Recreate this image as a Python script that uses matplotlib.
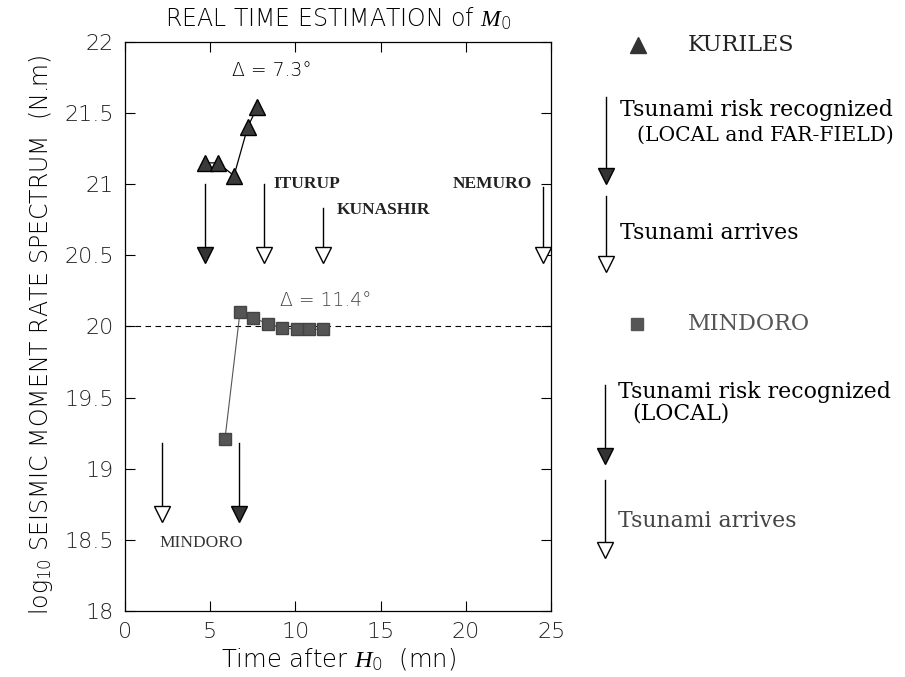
import matplotlib
matplotlib.use('Agg')
import matplotlib.pyplot as plt

plt.rcParams['mathtext.fontset'] = 'custom'
plt.rcParams['mathtext.rm'] = 'DejaVu Sans:light'
plt.rcParams['mathtext.it'] = 'Liberation Serif:italic'

# Kuriles estimates (triangles)
kur_t = [4.7, 5.45, 6.4, 7.2, 7.75]
kur_m = [21.15, 21.15, 21.06, 21.40, 21.54]

# Mindoro estimates (squares)
min_t = [5.87, 6.75, 7.5, 8.4, 9.2, 10.1, 10.8, 11.6]
min_m = [19.21, 20.10, 20.06, 20.02, 19.99, 19.98, 19.98, 19.98]

# event arrows: time, top, head, filled
kur_arrows_t = [4.7, 8.15, 11.6, 24.5]
kur_arrows_top = [21.0, 21.0, 20.83, 20.98]
kur_arrows_head = [20.5, 20.5, 20.5, 20.5]
kur_arrows_filled = [True, False, False, False]

min_arrows_t = [2.2, 6.7]
min_arrows_top = [19.18, 19.18]
min_arrows_head = [18.68, 18.68]
min_arrows_filled = [False, True]

places = ['ITURUP', 'KUNASHIR', 'NEMURO']
places_t = [8.7, 12.4, 19.2]
places_m = [21.0, 20.82, 21.0]

serif = 'Liberation Serif'
wide_serif = 'DejaVu Serif'
sans = 'DejaVu Sans'
thin = 'light'


def arrow(ax, x, top, head, filled, **kw):
    ax.plot([x, x], [top, head + 0.03], color='black', lw=1.0,
            clip_on=False, **kw)
    ax.plot([x], [head], marker='v', markersize=11,
            markerfacecolor='#333333' if filled else 'white',
            markeredgecolor='black', markeredgewidth=1.0,
            clip_on=False, **kw)


fig = plt.figure(figsize=(9.05, 6.77), dpi=100)
ax = fig.add_axes([0.138, 0.0975, 0.471, 0.8405])

ax.set_xlim(0, 25)
ax.set_ylim(18, 22)
ax.set_xticks([0, 5, 10, 15, 20, 25])
ax.set_yticks([18, 18.5, 19, 19.5, 20, 20.5, 21, 21.5, 22])
ax.set_yticklabels(['18', '18.5', '19', '19.5', '20', '20.5', '21', '21.5', '22'])
ax.tick_params(direction='in', length=7, width=0.8, top=True, right=True,
               labelsize=16, pad=8)
for lab in ax.get_xticklabels() + ax.get_yticklabels():
    lab.set_fontfamily(sans)
    lab.set_fontweight(thin)
    lab.set_color('#222222')
for s in ax.spines.values():
    s.set_linewidth(0.9)

ax.axhline(20, color='black', lw=0.8, ls=(0, (5, 4)))

ax.plot(kur_t, kur_m, color='black', lw=0.9, marker='^', markersize=11,
        markerfacecolor='#3a3a3a', markeredgecolor='black')
ax.plot(min_t, min_m, color='#555555', lw=0.8, marker='s', markersize=8,
        markerfacecolor='#555555', markeredgecolor='#444444')

for x, t, h, f in zip(kur_arrows_t, kur_arrows_top, kur_arrows_head, kur_arrows_filled):
    arrow(ax, x, t, h, f)
for x, t, h, f in zip(min_arrows_t, min_arrows_top, min_arrows_head, min_arrows_filled):
    arrow(ax, x, t, h, f)

for name, x, y in zip(places, places_t, places_m):
    ax.text(x, y, name, family=serif, fontsize=12.5, fontweight='bold',
            color='#222222', ha='left', va='center')
ax.text(2.05, 18.48, 'MINDORO', family=serif, fontsize=12.5, color='#333333',
        ha='left', va='center')

ax.text(8.6, 21.8, 'Δ = 7.3°', family=sans, fontweight=thin, fontsize=13.5,
        ha='center', va='center')
ax.text(11.8, 20.18, 'Δ = 11.4°', family=sans, fontweight=thin, fontsize=13.5,
        ha='center', va='center', color='#444444')

ax.set_title(r'REAL TIME ESTIMATION of $M_{\mathit{0}}$', family=sans, fontweight=thin,
             fontsize=17, pad=11)
ax.set_xlabel(r'Time after $H_{\mathit{0}}$  (mn)', family=sans, fontweight=thin,
              fontsize=17.5)
ax.xaxis.set_label_coords(0.5, -0.062)
ax.set_ylabel(r'log$_{10}$ SEISMIC MOMENT RATE SPECTRUM  (N.m)', family=sans,
              fontweight=thin, fontsize=17)
ax.yaxis.set_label_coords(-0.165, 0.485)

# key on the right, in data units beyond the axes
ax.plot([30.1], [21.98], marker='^', markersize=11, color='#333333', clip_on=False)
ax.text(33.0, 21.98, 'KURILES', family=wide_serif, fontsize=16, va='center',
        color='#222222')
ax.text(29.05, 21.52, 'Tsunami risk recognized', family=wide_serif, fontsize=15.8,
        va='center')
ax.text(30.05, 21.345, '(LOCAL and FAR-FIELD)', family=wide_serif, fontsize=14.6,
        va='center')
arrow(ax, 28.2, 21.61, 21.06, True)
arrow(ax, 28.2, 20.92, 20.44, False)
ax.text(29.05, 20.655, 'Tsunami arrives', family=wide_serif, fontsize=15.8, va='center')

ax.plot([30.05], [20.02], marker='s', markersize=8, color='#555555', clip_on=False)
ax.text(33.0, 20.02, 'MINDORO', family=wide_serif, fontsize=16, va='center',
        color='#555555')
ax.text(28.95, 19.54, 'Tsunami risk recognized', family=wide_serif, fontsize=15.8,
        va='center')
ax.text(29.75, 19.39, '(LOCAL)', family=wide_serif, fontsize=15.8, va='center')
arrow(ax, 28.15, 19.59, 19.09, True)
arrow(ax, 28.15, 18.92, 18.43, False)
ax.text(28.95, 18.63, 'Tsunami arrives', family=wide_serif, fontsize=15.8, va='center',
        color='#444444')

fig.savefig('out.png', dpi=100)
